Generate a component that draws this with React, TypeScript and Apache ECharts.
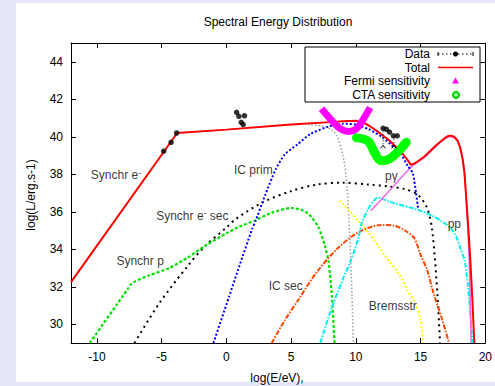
import React, { useEffect, useRef } from "react";
import * as echarts from "echarts";

type P = [number, number];

const xTicks = [-10, -5, 0, 5, 10, 15, 20];
const yTicks = [30, 32, 34, 36, 38, 40, 42, 44];

const total: P[] = [
  [-12, 32.25], [-3.8, 40.2], [0, 40.38], [5, 40.65], [8, 40.78], [9, 40.83], [10, 40.85],
  [10.5, 40.78], [11, 40.6], [11.7, 40.27], [12.5, 39.85], [13.5, 39.2], [14.0, 38.75],
  [14.25, 38.5], [14.6, 38.6], [15.3, 38.95], [16.2, 39.55], [16.9, 39.95], [17.15, 40.04],
  [17.35, 40.06], [17.6, 40.0], [17.85, 39.8], [18.05, 39.45], [18.25, 38.8], [18.4, 38.0],
  [18.55, 36.5], [18.7, 35.0], [18.85, 33.3], [19.0, 31.3], [19.15, 29],
];
const synchrESec: P[] = [
  [-7.1, 29], [-5.2, 31.1], [-3, 33.1], [-1.6, 34.2], [0, 35.15], [0.7, 35.6], [2.8, 36.5],
  [5, 37.1], [7, 37.45], [9, 37.55], [11, 37.45], [12.5, 37.35], [13.8, 37.2], [14.8, 36.9],
  [15.5, 36.2], [15.9, 35.0], [16.3, 31.6], [16.5, 29],
];
const synchrP: P[] = [
  [-10.55, 29], [-7.6, 31.9], [-7.35, 32.15], [-7.0, 32.3], [-6, 32.6], [-4.4, 33.0],
  [-3, 33.55], [-1.6, 34.2], [0, 34.85], [1, 35.2], [2.25, 35.55], [3.5, 35.95], [5, 36.2],
  [5.8, 36.1], [6.4, 35.85], [7.1, 35.2], [7.6, 34.2], [7.9, 33.3], [8.15, 31.5], [8.35, 29],
];
const icPrim: P[] = [
  [-1.0, 29], [0.2, 31.45], [1.0, 33.1], [2.0, 35.1], [2.25, 35.5], [3.0, 36.9],
  [3.8, 38.25], [4.5, 39.05], [5.5, 39.6], [6.5, 40.15], [7.9, 40.55], [9, 40.7],
  [10, 40.65], [11, 40.4], [12, 40.0], [13, 39.4], [13.5, 39.05], [14, 38.45],
  [14.4, 38.05], [14.65, 37.0], [14.8, 36.2],
];
const grayComp: P[] = [
  [6.3, 40.65], [7.5, 40.55], [8.4, 40.2], [9.0, 39.0], [9.3, 37.5], [9.45, 35.8],
  [9.6, 33.5], [9.7, 31.5], [9.8, 29],
];
const icSec: P[] = [
  [3.5, 29], [4.5, 30.2], [5.6, 31.35], [7, 32.8], [8.6, 34.05], [10.2, 34.9], [12, 35.3],
  [13, 35.25], [13.8, 35.0], [14.5, 34.6], [15.0, 33.7], [15.5, 32.9], [16.0, 31.65],
  [16.6, 30.4], [17.2, 29],
];
const pGamma: P[] = [
  [11.15, 36.05], [12.5, 37.05], [14.3, 38.4], [15.3, 38.9], [16.2, 39.5], [16.9, 39.9],
  [17.3, 40.0], [17.7, 39.9], [18.0, 39.55], [18.3, 38.6], [18.5, 36.9], [18.75, 33.5],
  [18.9, 29],
];
const pp: P[] = [
  [7.25, 29], [8.1, 30.8], [9.0, 32.4], [9.55, 33.3], [10.2, 34.6], [10.45, 35.4],
  [11.0, 36.2], [11.45, 36.65], [11.7, 36.75], [12.0, 36.7], [12.75, 36.5], [14.8, 36.1],
  [16.0, 35.75], [16.6, 35.5], [17.3, 35.15], [17.8, 34.6], [18.1, 34.0], [18.4, 33.4],
  [18.65, 32.1], [18.85, 30.5], [19.0, 29],
];
const bremsstr: P[] = [
  [8.75, 36.6], [10.2, 35.5], [11.0, 34.85], [11.7, 34.2], [12.4, 33.5], [13.3, 32.7],
  [14.0, 31.8], [14.6, 31.1], [15.0, 30.2], [15.2, 29],
];
const fermi: P[] = [
  [7.35, 41.5], [7.9, 41.05], [8.5, 40.6], [9.0, 40.35], [9.5, 40.28], [10.0, 40.4],
  [10.5, 40.85], [11.1, 41.55],
];
const cta: P[] = [
  [10.05, 39.94], [10.95, 39.76], [11.46, 39.14], [11.97, 38.72], [12.6, 38.82],
  [13.38, 39.3], [13.89, 39.7],
];
const dataPts: P[] = [
  [-4.84, 39.23], [-4.27, 39.7], [-3.84, 40.2],
  [0.79, 41.3], [0.97, 41.09], [1.4, 41.12], [1.15, 40.77], [1.3, 40.65],
  [12.1, 40.45], [12.35, 40.4], [12.6, 40.25], [12.9, 40.05], [13.2, 40.05],
];
const errBars: [number, number, number][] = [
  [12.1, 40.45, 39.46], [12.95, 40.05, 39.46],
];
const annotations: { x: number; y: number; text: string }[] = [
  { x: -10.47, y: 37.94, text: "{t|Synchr e}{s|-}" },
  { x: 0.59, y: 38.22, text: "{t|IC prim}" },
  { x: -5.42, y: 35.78, text: "{t|Synchr e}{s|-}{t| sec}" },
  { x: -8.49, y: 33.39, text: "{t|Synchr p}" },
  { x: 3.27, y: 32.06, text: "{t|IC sec}" },
  { x: 11.0, y: 31.0, text: "{t|Bremsstr}" },
  { x: 12.25, y: 37.9, text: "{t|pγ}" },
  { x: 17.09, y: 35.33, text: "{t|pp}" },
];

const FONT = "Liberation Sans, Arial, sans-serif";

function dotted(name: string, data: P[], color: string, width: number, dash: number[], smooth = 0.3) {
  return {
    name,
    type: "line",
    data,
    showSymbol: false,
    smooth,
    lineStyle: { color, width, type: dash, cap: "butt" },
    z: 2,
  };
}

export default function App() {
  const ref = useRef<HTMLDivElement>(null);
  useEffect(() => {
    if (!ref.current) return;
    const chart = echarts.init(ref.current, undefined, { renderer: "svg" });
    const axisCommon = {
      type: "value",
      axisLine: { show: true, onZero: false, lineStyle: { color: "#000", width: 1 } },
      splitLine: { show: false },
    };
    const lx = 438, rx = 473;
    chart.setOption({
      animation: false,
      backgroundColor: "transparent",
      textStyle: { fontFamily: FONT },
      grid: { left: 71, right: 7, top: 43, bottom: 43 },
      xAxis: [
        {
          ...axisCommon, position: "bottom", min: -12, max: 20,
          axisTick: { inside: true, length: 5, customValues: xTicks, lineStyle: { color: "#000" } },
          axisLabel: { customValues: xTicks, color: "#000", fontSize: 12, fontFamily: FONT, margin: 8 },
        },
        {
          ...axisCommon, position: "top", min: -12, max: 20,
          axisTick: { inside: true, length: 5, customValues: xTicks, lineStyle: { color: "#000" } },
          axisLabel: { show: false },
        },
      ],
      yAxis: [
        {
          ...axisCommon, position: "left", min: 29, max: 45,
          axisTick: { inside: true, length: 5, customValues: yTicks, lineStyle: { color: "#000" } },
          axisLabel: { customValues: yTicks, color: "#000", fontSize: 12, fontFamily: FONT, margin: 8 },
        },
        {
          ...axisCommon, position: "right", min: 29, max: 45,
          axisTick: { inside: true, length: 5, customValues: yTicks, lineStyle: { color: "#000" } },
          axisLabel: { show: false },
        },
      ],
      graphic: {
        elements: [
          { type: "text", x: 278, y: 22, style: { text: "Spectral Energy Distribution", fill: "#000", font: `12px ${FONT}`, align: "center", verticalAlign: "middle" } },
          { type: "text", x: 277, y: 378, style: { text: "log(E/eV),", fill: "#000", font: `12px ${FONT}`, align: "center", verticalAlign: "middle" } },
          { type: "text", x: 31, y: 195, rotation: Math.PI / 2, style: { text: "log(L/erg.s-1)", fill: "#000", font: `12px ${FONT}`, align: "center", verticalAlign: "middle" } },
          { type: "rect", shape: { x: 305, y: 47, width: 175, height: 55 }, style: { fill: "#fff", stroke: "#000", lineWidth: 1 }, z: 100 },
          { type: "text", x: 430, y: 54, z: 101, style: { text: "Data", fill: "#000", font: `12px ${FONT}`, align: "right", verticalAlign: "middle" } },
          { type: "text", x: 430, y: 67.5, z: 101, style: { text: "Total", fill: "#000", font: `12px ${FONT}`, align: "right", verticalAlign: "middle" } },
          { type: "text", x: 430, y: 81, z: 101, style: { text: "Fermi sensitivity", fill: "#000", font: `12px ${FONT}`, align: "right", verticalAlign: "middle" } },
          { type: "text", x: 430, y: 94.5, z: 101, style: { text: "CTA sensitivity", fill: "#000", font: `12px ${FONT}`, align: "right", verticalAlign: "middle" } },
          { type: "line", z: 101, shape: { x1: lx, y1: 54, x2: rx, y2: 54 }, style: { stroke: "#000", lineWidth: 1, lineDash: [1.5, 2.5] } },
          { type: "line", z: 101, shape: { x1: lx, y1: 52, x2: lx, y2: 56 }, style: { stroke: "#000", lineWidth: 1 } },
          { type: "line", z: 101, shape: { x1: rx, y1: 52, x2: rx, y2: 56 }, style: { stroke: "#000", lineWidth: 1 } },
          { type: "circle", z: 102, shape: { cx: 455.5, cy: 54, r: 2.5 }, style: { fill: "#000" } },
          { type: "line", z: 101, shape: { x1: lx, y1: 67.5, x2: rx, y2: 67.5 }, style: { stroke: "#ff0000", lineWidth: 1.5 } },
          { type: "polygon", z: 101, shape: { points: [[455.5, 77.5], [459, 83.5], [452, 83.5]] }, style: { fill: "#ff00ff" } },
          { type: "circle", z: 101, shape: { cx: 456, cy: 95, r: 3 }, style: { fill: "#b0ffb0", stroke: "#00dd00", lineWidth: 2.2 } },
        ],
      },
      series: [
        dotted("Synchr e- sec", synchrESec, "#000000", 2, [2, 4]),
        dotted("Synchr p", synchrP, "#00e000", 2.2, [3, 2], 0.2),
        dotted("gray", grayComp, "#a0a0a0", 1.5, [1.5, 2]),
        dotted("Bremsstr", bremsstr, "#ffff00", 2, [2, 2]),
        dotted("IC sec", icSec, "#ff4500", 2, [5, 1.5, 1.5, 1.5]),
        dotted("pp", pp, "#00f0f0", 2, [5, 1.5, 1.5, 1.5]),
        { name: "pγ", type: "line", data: pGamma, showSymbol: false, smooth: 0.3, lineStyle: { color: "#ee66ee", width: 1.5 }, z: 2 },
        dotted("IC prim", icPrim, "#0000ff", 2, [2, 2], 0.2),
        { name: "Total", type: "line", data: total, showSymbol: false, smooth: false, lineStyle: { color: "#ff0000", width: 2 }, z: 3 },
        { name: "Fermi sensitivity", type: "line", data: fermi, showSymbol: false, smooth: 0.4, lineStyle: { color: "#ff00ff", width: 7, cap: "butt" }, z: 4 },
        { name: "CTA sensitivity", type: "line", data: cta, showSymbol: false, smooth: 0.4, lineStyle: { color: "#00ff00", width: 9, cap: "round" }, z: 4 },
        {
          name: "errbars", type: "custom", z: 5,
          data: errBars,
          renderItem: (_p: any, api: any) => {
            const top = api.coord([api.value(0), api.value(1)]);
            const low = api.coord([api.value(0), api.value(2)]);
            return {
              type: "group",
              children: [
                { type: "line", shape: { x1: top[0], y1: top[1], x2: low[0], y2: low[1] }, style: { stroke: "#000", lineWidth: 1, lineDash: [1, 2] } },
                { type: "polyline", shape: { points: [[low[0] - 2.5, low[1] + 1.5], [low[0], low[1] - 1.5], [low[0] + 2.5, low[1] + 1.5]] }, style: { stroke: "#000", lineWidth: 1, fill: "none" } },
              ],
            };
          },
        },
        { name: "Data", type: "scatter", data: dataPts, symbol: "circle", symbolSize: 5.5, itemStyle: { color: "#000" }, z: 6 },
        {
          name: "labels", type: "scatter", symbolSize: 0, z: 7, silent: true,
          data: annotations.map((a) => ({ value: [a.x, a.y], label: { formatter: a.text } })),
          label: {
            show: true, position: "right", distance: 0,
            rich: {
              t: { fontSize: 12, fontFamily: FONT, color: "#000", lineHeight: 14 },
              s: { fontSize: 9, fontFamily: FONT, color: "#000", verticalAlign: "top", lineHeight: 14 },
            },
          },
        },
      ],
    });
    return () => chart.dispose();
  }, []);
  return (
    <div style={{ position: "fixed", left: 0, top: 0, width: 495, height: 386, background: "#e6e6fa" }}>
      <div style={{ position: "absolute", left: 16, top: 3, width: 479, height: 379, background: "#ffffff" }} />
      <div ref={ref} style={{ position: "absolute", left: 0, top: 0, width: 495, height: 386 }} />
    </div>
  );
}
